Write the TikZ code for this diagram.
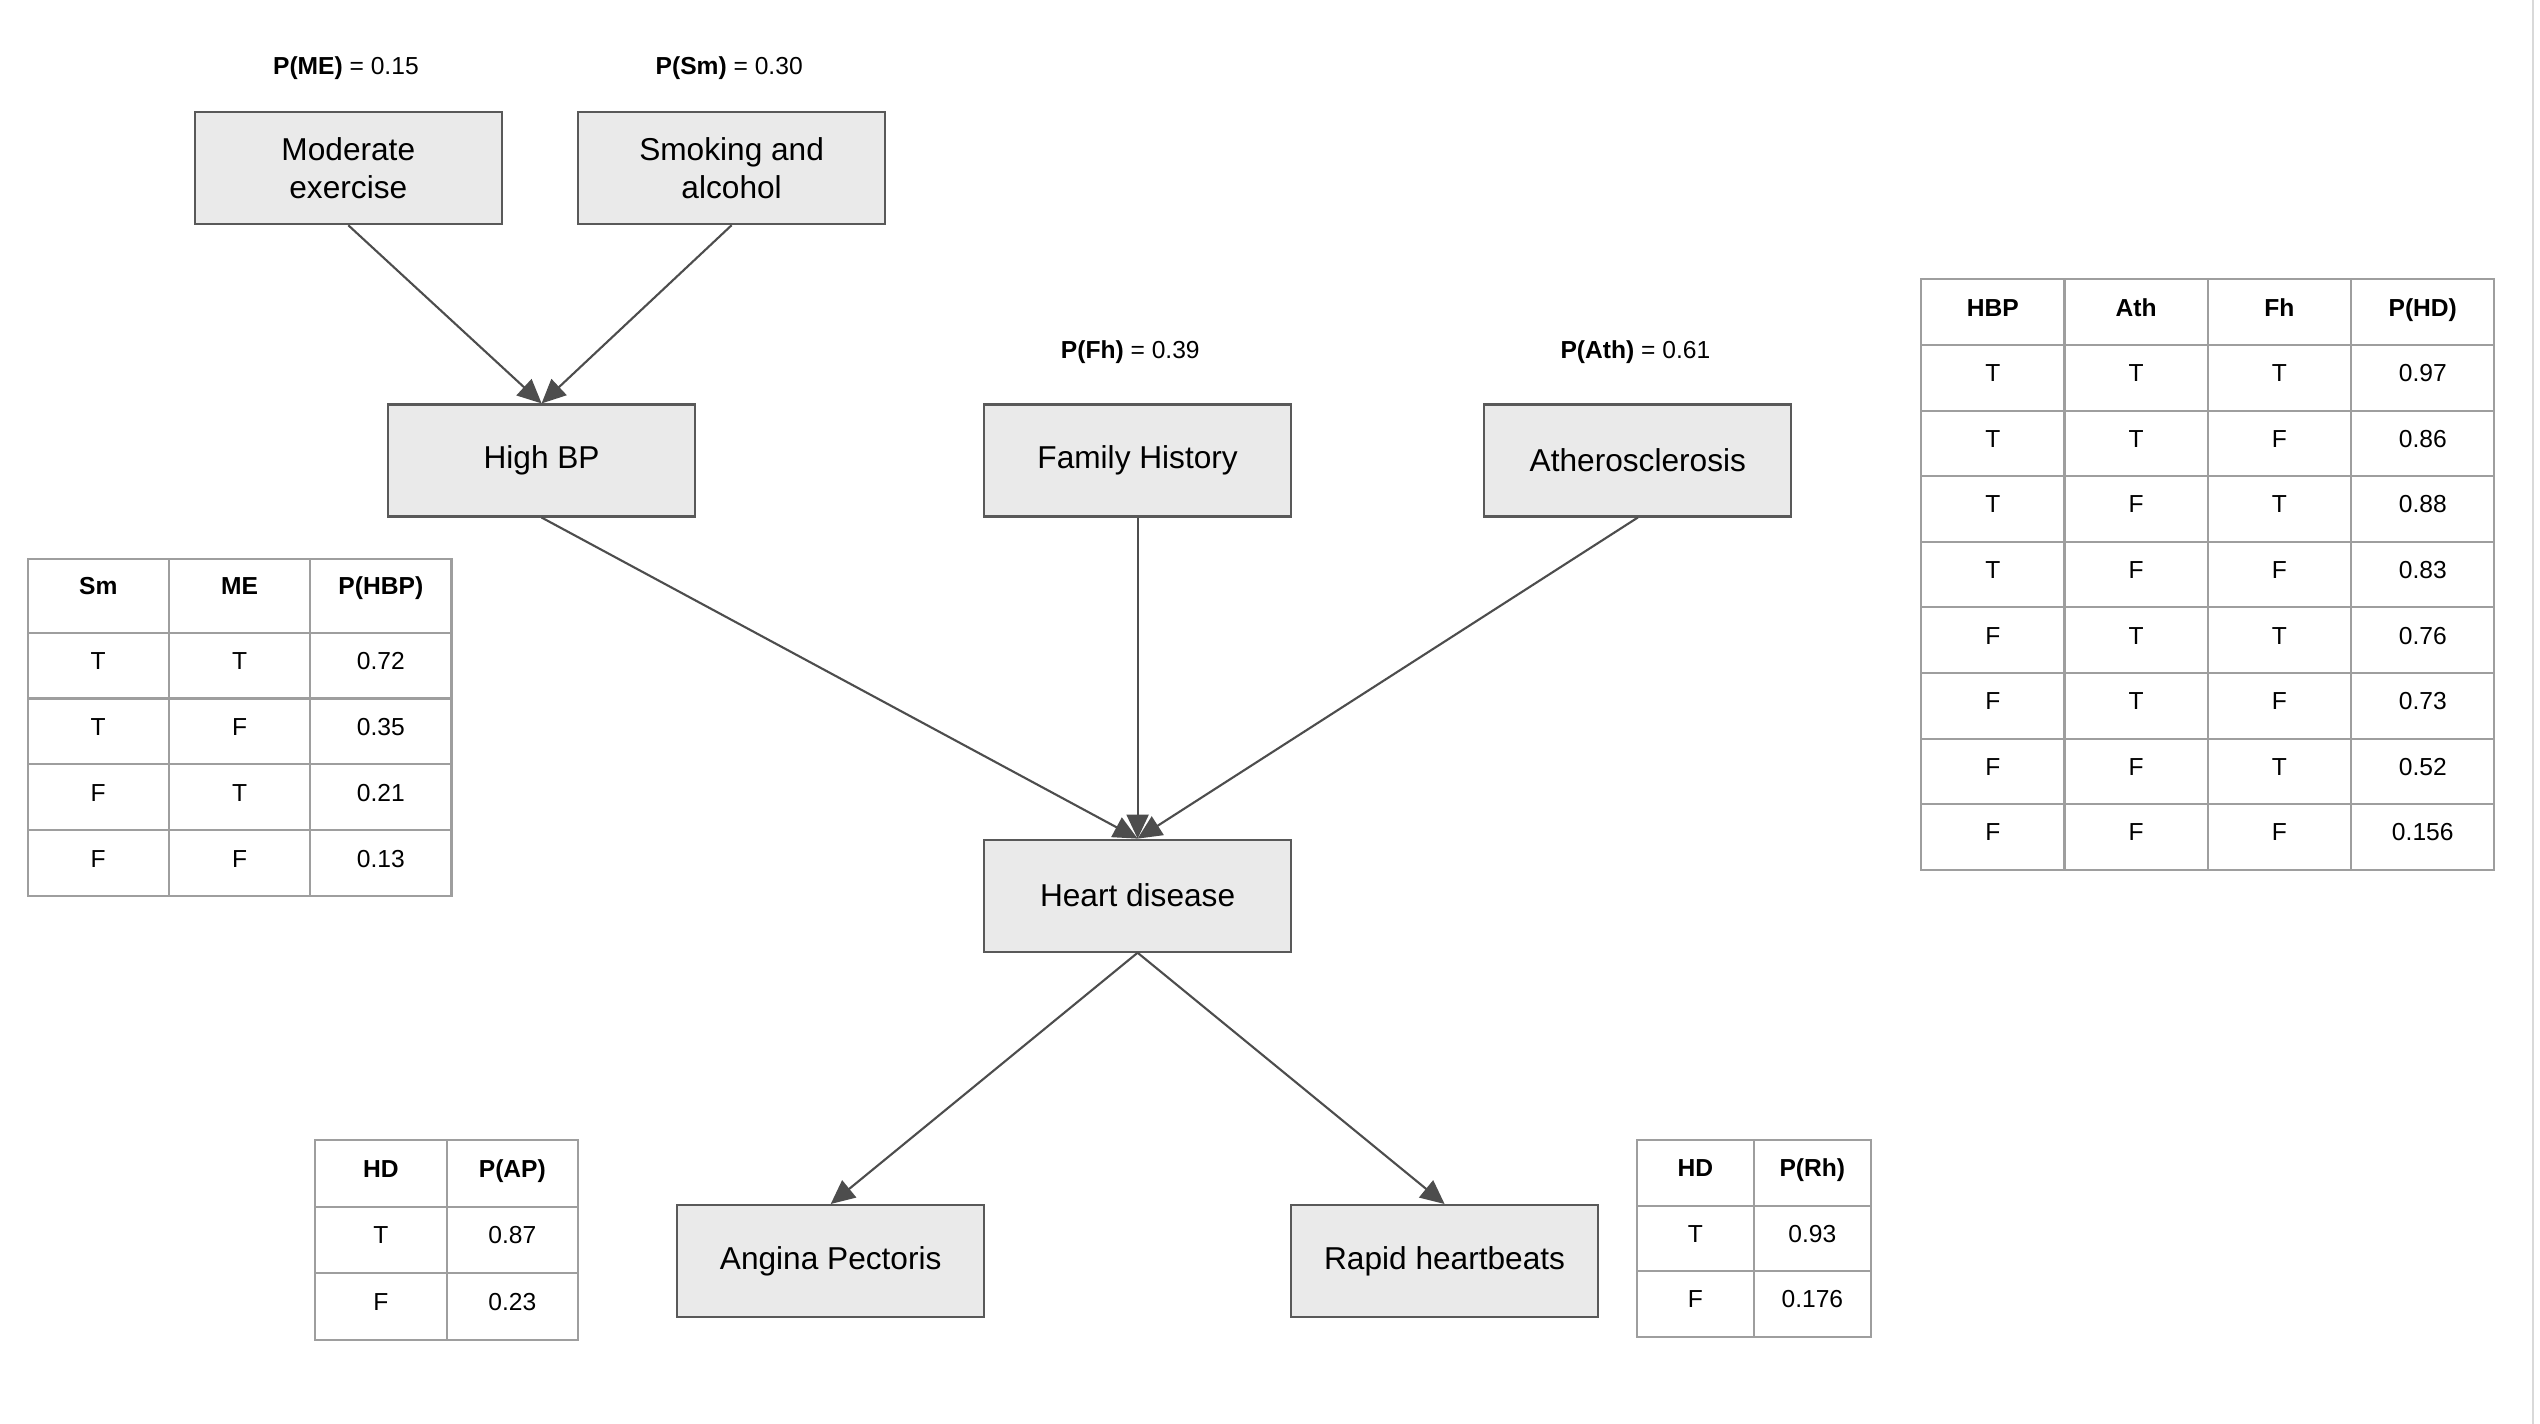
\documentclass[tikz,border=0pt]{standalone}
\usepackage{fontspec}
\setmainfont{Liberation Sans}
\usepackage{tikz}
\usetikzlibrary{arrows.meta}
\definecolor{boxfill}{HTML}{EAEAEA}
\definecolor{boxline}{HTML}{595959}
\definecolor{arrowcol}{HTML}{4D4D4D}
\definecolor{gridcol}{HTML}{9E9E9E}

\begin{document}
\begin{tikzpicture}[
    var/.style={draw=boxline, fill=boxfill, line width=0.6pt, minimum width=3.07cm, minimum height=1.12cm, align=center, font=\fontsize{9}{10.6}\selectfont},
    prob/.style={font=\fontsize{7}{8}\selectfont},
    cell/.style={draw=gridcol, line width=0.6pt, inner sep=0pt, text height=5pt, text depth=2.8pt, font=\fontsize{7}{8}\selectfont},
    hcell/.style={cell, font=\fontsize{7}{8}\selectfont\bfseries},
    edge/.style={draw=arrowcol, line width=0.6pt, -{Triangle[length=2.4mm, width=2.2mm]}}
  ]
  % Page
  \fill[white] (0,0) rectangle (25.4,14.24);
  \useasboundingbox (0,0) rectangle (25.4,14.24);
  \draw[gray!30, line width=0.8pt] (25.33,0) -- (25.33,14.24); % page edge

  % Nodes
  \node[var] (ME) at (3.483,12.558) {Moderate\\exercise};
  \node[var] (Sm) at (7.316,12.558) {Smoking and\\alcohol};
  \node[var] (HBP) at (5.416,9.635) {High BP};
  \node[var] (Fh) at (11.376,9.635) {Family History};
  \node[var] (Ath) at (16.378,9.635) {Atherosclerosis};
  \node[var] (HD) at (11.376,5.283) {Heart disease};
  \node[var] (AP) at (8.307,1.629) {Angina Pectoris};
  \node[var] (Rh) at (14.446,1.629) {Rapid heartbeats};

  % Priors
  \node[prob] (pME) at (3.459,13.56) {\textbf{P(ME)} = 0.15};
  \node[prob] (pSm) at (7.292,13.56) {\textbf{P(Sm)} = 0.30};
  \node[prob] (pFh) at (11.303,10.72) {\textbf{P(Fh)} = 0.39};
  \node[prob] (pAth) at (16.354,10.72) {\textbf{P(Ath)} = 0.61};

  % Arrows
  \draw[edge] (ME.south) -- (HBP.north);
  \draw[edge] (Sm.south) -- (HBP.north);
  \draw[edge] (HBP.south) -- (HD.north);
  \draw[edge] (Fh.south) -- (HD.north);
  \draw[edge] (Ath.south) -- (HD.north);
  \draw[edge] (HD.south) -- (AP.north);
  \draw[edge] (HD.south) -- (Rh.north);

  % CPT of High BP
  \foreach \h [count=\j] in {Sm,ME,P(HBP)}
    \node[hcell, text depth=5.6pt, minimum width=1.413cm, minimum height=0.739cm] (thbp-0-\j) at ({0.276+(\j-0.5)*1.413},{8.653-0.3695}) {\h};
  \foreach \a/\b/\p [count=\i] in {T/T/0.72, T/F/0.35, F/T/0.21, F/F/0.13}
    \foreach \t [count=\j] in {\a,\b,\p}
      \node[cell, minimum width=1.413cm, minimum height=0.659cm] (thbp-\i-\j) at ({0.276+(\j-0.5)*1.413},{7.914-(\i-0.5)*0.659}) {\t};

  % CPT of Heart disease
  \foreach \h [count=\j] in {HBP,Ath,Fh,P(HD)}
    \node[hcell, minimum width=1.433cm, minimum height=0.656cm] (thd-0-\j) at ({19.212+(\j-0.5)*1.433},{11.446-0.328}) {\h};
  \foreach \a/\b/\c/\p [count=\i] in {T/T/T/0.97, T/T/F/0.86, T/F/T/0.88, T/F/F/0.83, F/T/T/0.76, F/T/F/0.73, F/F/T/0.52, F/F/F/0.156}
    \foreach \t [count=\j] in {\a,\b,\c,\p}
      \node[cell, minimum width=1.433cm, minimum height=0.656cm] (thd-\i-\j) at ({19.212+(\j-0.5)*1.433},{11.446-(\i+0.5)*0.656}) {\t};

  % CPT of Angina Pectoris
  \foreach \h [count=\j] in {HD,P(AP)}
    \node[hcell, minimum width=1.315cm, minimum height=0.666cm] (tap-0-\j) at ({3.151+(\j-0.5)*1.315},{2.839-0.333}) {\h};
  \foreach \a/\p [count=\i] in {T/0.87, F/0.23}
    \foreach \t [count=\j] in {\a,\p}
      \node[cell, minimum width=1.315cm, minimum height=0.666cm] (tap-\i-\j) at ({3.151+(\j-0.5)*1.315},{2.839-(\i+0.5)*0.666}) {\t};

  % CPT of Rapid heartbeats
  \foreach \h [count=\j] in {HD,P(Rh)}
    \node[hcell, minimum width=1.169cm, minimum height=0.655cm] (trh-0-\j) at ({16.37+(\j-0.5)*1.169},{2.839-0.3275}) {\h};
  \foreach \a/\p [count=\i] in {T/0.93, F/0.176}
    \foreach \t [count=\j] in {\a,\p}
      \node[cell, minimum width=1.169cm, minimum height=0.655cm] (trh-\i-\j) at ({16.37+(\j-0.5)*1.169},{2.839-(\i+0.5)*0.655}) {\t};
\end{tikzpicture}
\end{document}
